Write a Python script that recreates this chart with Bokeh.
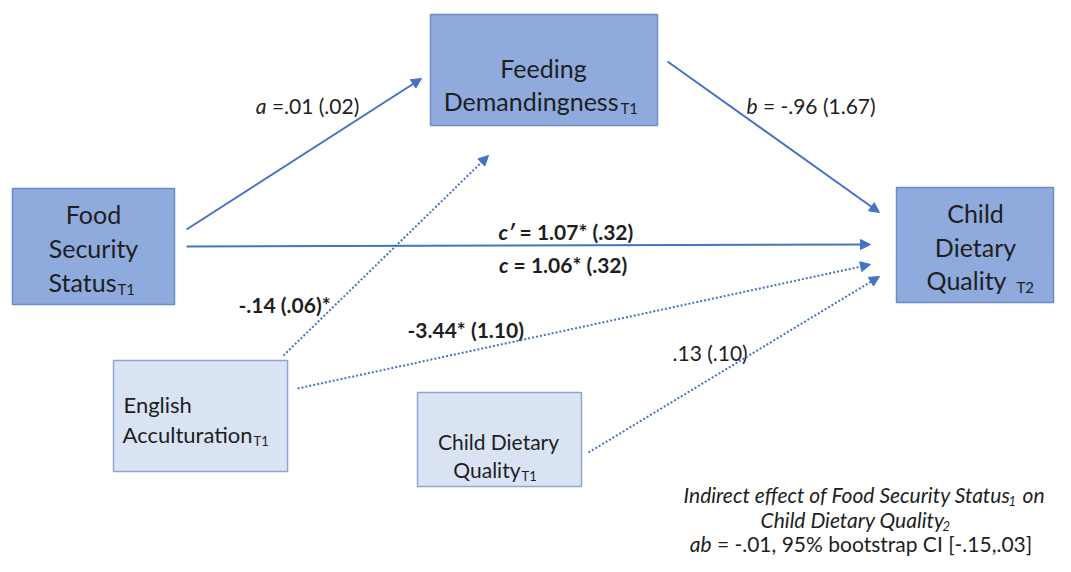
from bokeh.plotting import figure
from bokeh.models import Range1d, Arrow, NormalHead
from bokeh.core.properties import value
from bokeh.embed import file_html
from bokeh.resources import INLINE

NB = "\u00a0"
# ---------------- data (text content) ----------------
node_names = ["Food Security Status", "Feeding Demandingness", "Child Dietary Quality",
              "English Acculturation", "Child Dietary Quality"]
node_subs = ["T1", "T1", "T2", "T1", "T1"]
path_a = ["a", NB + "=.01 (.02)"]
path_b = ["b", NB + "= -.96 (1.67)"]
path_cp = ["c\u2032", NB + "= 1.07* (.32)"]
path_c = ["c", NB + "= 1.06* (.32)"]
cov_labels = ["-.14 (.06)*", "-3.44* (1.10)", ".13 (.10)"]
indirect_lines = ["Indirect effect of Food Security Status", "on",
                  "Child Dietary Quality", "ab", NB + "= -.01, 95% bootstrap CI [-.15,.03]"]
indirect_subs = ["1", "2"]

# ---------------- layout ----------------
FONT = value("Lato")
TXT = "#1e1e1e"
LINE = "#4472C4"
DARK_FILL, DARK_LINE = "#8FAADC", "#6B8CCB"
LIGHT_FILL, LIGHT_LINE = "#DAE3F3", "#8EA6D4"

p = figure(width=1055, height=556, x_range=Range1d(0, 1055), y_range=Range1d(556, 0),
           output_backend="svg", toolbar_location=None, min_border=0)
p.axis.visible = False
p.grid.visible = False
p.outline_line_color = None
p.background_fill_color = "white"

# boxes: left, right, top, bottom (pixels, y downward)
dark_boxes = dict(left=[12, 430, 896], right=[174, 657, 1053], top=[188, 14, 187], bottom=[304, 125, 302])
light_boxes = dict(left=[113, 417], right=[287, 581], top=[360, 392], bottom=[471, 486])
p.quad(**dark_boxes, fill_color=DARK_FILL, line_color=DARK_LINE, line_width=1.5)
p.quad(**light_boxes, fill_color=LIGHT_FILL, line_color=LIGHT_LINE, line_width=1.5)

def txt(x, y, t, size, align="center", style="normal", color=TXT):
    p.text(x=[x], y=[y], text=[t], text_font=FONT, text_font_size=size, text_align=align,
           text_baseline="middle", text_font_style=style, text_color=color)

BIG = "25px"
SUBB = "15px"
MID = "21px"
SUBM = "13px"

# node labels
fs = node_names[0].split()
txt(93, 213, fs[0], BIG)
txt(93, 247, fs[1], BIG)
txt(116, 281, fs[2], BIG, "right")
txt(117, 288, node_subs[0], SUBB, "left")

fd = node_names[1].split()
txt(543, 67, fd[0], BIG)
txt(618, 100, fd[1], BIG, "right")
txt(620, 107, node_subs[1], SUBB, "left")

cd = node_names[2].split()
txt(975, 212, cd[0], BIG)
txt(975, 246, cd[1], BIG)
txt(1006, 279, cd[2], BIG, "right")
txt(1016, 286, node_subs[2], SUBB, "left")

ea = node_names[3].split()
txt(123, 404, ea[0], "22px", "left")
txt(252, 434, ea[1], "22px", "right")
txt(253, 440, node_subs[3], SUBM, "left")

c1 = node_names[4].split()
txt(498, 441, c1[0] + " " + c1[1], MID)
txt(520, 469, c1[2], MID, "right")
txt(521, 475, node_subs[4], SUBM, "left")

# arrows
def arrow(x0, y0, x1, y1, dash="solid"):
    p.add_layout(Arrow(x_start=x0, y_start=y0, x_end=x1, y_end=y1, line_color=LINE,
                       line_width=2, line_dash=dash,
                       end=NormalHead(size=10, fill_color=LINE, line_color=LINE, line_width=1)))

arrow(186, 229, 421, 78)
arrow(667, 61, 879, 212)
arrow(186, 246, 870, 244)
arrow(283, 355, 488, 155, "2 2")
arrow(297, 388, 870, 264, "2 2")
arrow(588, 452, 879, 276, "2 2")

# path labels
txt(266, 105, path_a[0], MID, "right", "italic")
txt(266, 105, path_a[1], MID, "left")
txt(757, 105, path_b[0], MID, "right", "italic")
txt(757, 105, path_b[1], MID, "left")
txt(514, 231, path_cp[0], MID, "right", "bold italic")
txt(514, 231, path_cp[1], MID, "left", "bold")
txt(508, 264, path_c[0], MID, "right", "bold italic")
txt(508, 264, path_c[1], MID, "left", "bold")
txt(238, 304, cov_labels[0], MID, "left", "bold")
txt(407, 329, cov_labels[1], MID, "left", "bold")
txt(672, 352, cov_labels[2], MID, "left")

# indirect effect note
txt(1010, 494, indirect_lines[0], MID, "right", "italic")
txt(1008, 500, indirect_subs[0], SUBM, "left", "italic")
txt(1022, 494, indirect_lines[1], MID, "left", "italic")
txt(944, 519, indirect_lines[2], MID, "right", "italic")
txt(942, 525, indirect_subs[1], SUBM, "left", "italic")
txt(711, 543, indirect_lines[3], MID, "right", "italic")
txt(711, 543, indirect_lines[4], MID, "left")

open("out.html", "w").write(file_html(p, INLINE))
